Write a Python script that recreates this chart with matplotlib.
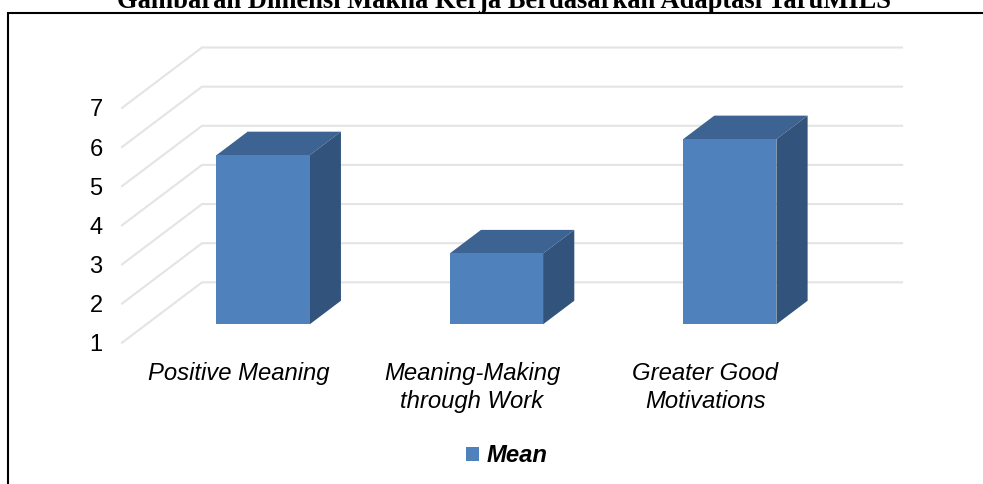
import matplotlib
matplotlib.use('Agg')
import matplotlib.pyplot as plt
from matplotlib.lines import Line2D
from matplotlib.patches import Polygon, Rectangle

plt.rcParams['font.family'] = ['Liberation Sans', 'DejaVu Sans']

categories = ['Positive Meaning', 'Meaning-Making\nthrough Work', 'Greater Good\nMotivations']
means = [5.32, 2.81, 5.73]
y_ticks = [1, 2, 3, 4, 5, 6, 7]
series_name = 'Mean'
title = 'Gambaran Dimensi Makna Kerja Berdasarkan Adaptasi TaruMILS'

W, H = 983, 484
FRONT = '#4f81bd'
TOP = '#3c6391'
SIDE = '#32547c'
GRID = '#e4e4e4'

# oblique projection, depth offset of the back wall in data units
DEPTH_X = 0.343
DEPTH_Y = 1.543
BAR_W = 0.40
BAR_D0 = 0.305
BAR_D1 = 0.695


def project(x, y, d):
    return (x + DEPTH_X * d, y + DEPTH_Y * d)


fig = plt.figure(figsize=(W / 100, H / 100), dpi=100)
ax = fig.add_axes([122 / W, 1 - 342.7 / H, 700 / W, 234.8 / H])
ax.set_xlim(-0.5, 2.5)
ax.set_ylim(1, 7)
for s in ax.spines.values():
    s.set_visible(False)
ax.patch.set_visible(False)

for v in y_ticks:
    x0, y0 = project(-0.5, v, 0)
    x1, y1 = project(-0.5, v, 1)
    x2, y2 = project(2.5, v, 1)
    ax.plot([x0, x1, x2], [y0, y1, y2], color=GRID, lw=1.5, clip_on=False, zorder=1,
            solid_joinstyle='miter')

for i, val in enumerate(means):
    left, right = i - BAR_W / 2, i + BAR_W / 2
    a = project(left, 1, BAR_D0)
    b = project(right, 1, BAR_D0)
    c = project(right, val, BAR_D0)
    d = project(left, val, BAR_D0)
    e = project(left, val, BAR_D1)
    f = project(right, val, BAR_D1)
    g = project(right, 1, BAR_D1)
    ax.add_patch(Polygon([d, c, f, e], fc=TOP, ec='none', clip_on=False, zorder=3))
    ax.add_patch(Polygon([b, g, f, c], fc=SIDE, ec='none', clip_on=False, zorder=3))
    ax.add_patch(Polygon([a, b, c, d], fc=FRONT, ec='none', clip_on=False, zorder=4))

ax.set_yticks(y_ticks)
ax.set_yticklabels([str(v) for v in y_ticks], fontsize=17, color='black')
ax.tick_params(axis='y', length=0, pad=14)
ax.set_xticks(range(len(categories)))
ax.set_xticklabels(categories, fontsize=17.2, style='italic', color='black', linespacing=1.28)
ax.tick_params(axis='x', length=0, pad=14)

# legend drawn by the library, placed by hand
handle = Rectangle((0, 0), 1, 1, fc=FRONT, ec='none')
leg = fig.legend([handle], [series_name], loc='center', bbox_to_anchor=(507 / W, 1 - 456 / H),
                 frameon=False, handlelength=0.55, handleheight=0.55, handletextpad=0.3,
                 prop={'size': 17.2, 'style': 'italic', 'weight': 'bold'})

# only the top and left rules of the page frame are in the crop
fig.add_artist(Line2D([7.5 / W, 7.5 / W, 1], [0, 1 - 13 / H, 1 - 13 / H], color='black', lw=1.5,
                      solid_joinstyle='miter', transform=fig.transFigure))
fig.text(503.5 / W, 1 - 7.5 / H, title, ha='center', va='baseline', fontsize=19.1,
         family='Liberation Serif', weight='bold')

fig.savefig('out.png', dpi=100)
